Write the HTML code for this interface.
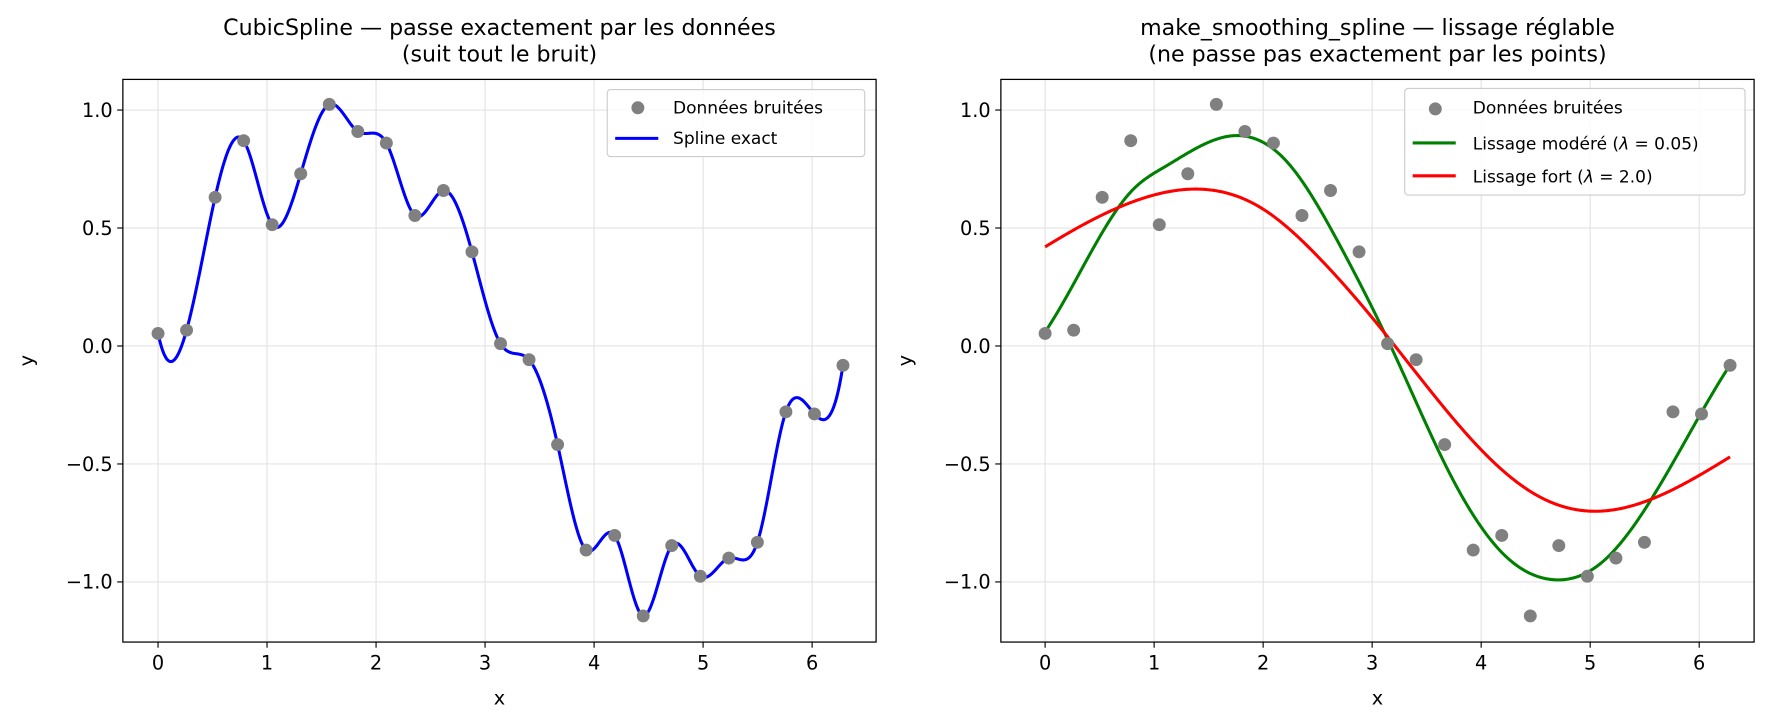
<!DOCTYPE html>
<html><head><meta charset="utf-8"><style>
html,body{margin:0;padding:0;background:#fff;}
svg{display:block;font-family:"DejaVu Sans","Liberation Sans",sans-serif;}
</style></head><body>
<svg id="s" width="1776" height="726" viewBox="0 0 1565 640" xmlns="http://www.w3.org/2000/svg">
<rect width="1565" height="640" fill="#fff"/>
<g id="g"></g>
<text x="440" y="31" font-size="19.5" text-anchor="middle">CubicSpline — passe exactement par les données</text>
<text x="440" y="54" font-size="19.5" text-anchor="middle">(suit tout le bruit)</text>
<text x="1214" y="31" font-size="19.5" text-anchor="middle">make_smoothing_spline — lissage réglable</text>
<text x="1214" y="54" font-size="19.5" text-anchor="middle">(ne passe pas exactement par les points)</text>
</svg>
<script>
const NS="http://www.w3.org/2000/svg";
const g=document.getElementById('g');
function el(t,a,txt){const e=document.createElementNS(NS,t);for(const k in a)e.setAttribute(k,a[k]);if(txt!==undefined)e.innerHTML=txt;g.appendChild(e);return e;}
const ys=[0.053,0.067,0.63,0.87,0.514,0.73,1.024,0.909,0.86,0.553,0.659,0.399,0.01,-0.058,-0.418,-0.865,-0.803,-1.144,-0.846,-0.976,-0.899,-0.832,-0.279,-0.288,-0.082];
const n=ys.length, xs=ys.map((_,i)=>i*2*Math.PI/24);
function solve(A,b){const N=b.length;for(let i=0;i<N;i++){let p=i;for(let r=i+1;r<N;r++)if(Math.abs(A[r][i])>Math.abs(A[p][i]))p=r;[A[i],A[p]]=[A[p],A[i]];[b[i],b[p]]=[b[p],b[i]];for(let r=i+1;r<N;r++){const f=A[r][i]/A[i][i];for(let c=i;c<N;c++)A[r][c]-=f*A[i][c];b[r]-=f*b[i];}}const x=new Array(N).fill(0);for(let i=N-1;i>=0;i--){let s=b[i];for(let c=i+1;c<N;c++)s-=A[i][c]*x[c];x[i]=s/A[i][i];}return x;}
function spline(X,Y,nak){const N=X.length,h=[];for(let i=0;i<N-1;i++)h.push(X[i+1]-X[i]);
const A=[],b=[];for(let i=0;i<N;i++){A.push(new Array(N).fill(0));b.push(0);}
for(let i=1;i<N-1;i++){A[i][i-1]=h[i-1];A[i][i]=2*(h[i-1]+h[i]);A[i][i+1]=h[i];b[i]=6*((Y[i+1]-Y[i])/h[i]-(Y[i]-Y[i-1])/h[i-1]);}
if(nak&&N>3){A[0][0]=h[1];A[0][1]=-(h[0]+h[1]);A[0][2]=h[0];A[N-1][N-3]=h[N-2];A[N-1][N-2]=-(h[N-3]+h[N-2]);A[N-1][N-1]=h[N-3];}
else{A[0][0]=1;A[N-1][N-1]=1;}
const M=solve(A,b);
return x=>{let i=0;while(i<N-2&&x>X[i+1])i++;const t=X[i+1]-x,u=x-X[i],hh=h[i];
return M[i]*t*t*t/(6*hh)+M[i+1]*u*u*u/(6*hh)+(Y[i]/hh-M[i]*hh/6)*t+(Y[i+1]/hh-M[i+1]*hh/6)*u;};}
const Y0=305,SY=208;
function axes(x0,X0){
 const L=x0,R=x0+664,T=70,B=566;
 for(let k=0;k<=6;k++){const px=X0+k*96.1;el('line',{x1:px,x2:px,y1:T,y2:B,stroke:'#e3e3e3','stroke-width':1});}
 [1,0.5,0,-0.5,-1].forEach(v=>{const py=Y0-v*SY;el('line',{x1:L,x2:R,y1:py,y2:py,stroke:'#e3e3e3','stroke-width':1});});
 return {L,R,T,B,X0};
}
function frame(a){
 el('rect',{x:a.L,y:a.T,width:664,height:496,fill:'none',stroke:'#000','stroke-width':1.1});
 for(let k=0;k<=6;k++){const px=a.X0+k*96.1;el('line',{x1:px,x2:px,y1:a.B,y2:a.B+5,stroke:'#000'});el('text',{x:px,y:a.B+24,'font-size':17,'text-anchor':'middle'},String(k));}
 [[1,'1.0'],[0.5,'0.5'],[0,'0.0'],[-0.5,'−0.5'],[-1,'−1.0']].forEach(([v,s])=>{const py=Y0-v*SY;el('line',{x1:a.L-5,x2:a.L,y1:py,y2:py,stroke:'#000'});el('text',{x:a.L-9,y:py+6,'font-size':17,'text-anchor':'end'},s);});
 el('text',{x:(a.L+a.R)/2,y:621,'font-size':17,'text-anchor':'middle'},'x');
 el('text',{x:0,y:0,'font-size':17,'text-anchor':'middle',transform:`translate(${a.L-79},${(a.T+a.B)/2}) rotate(-90)`},'y');
}
function curve(a,f,x1,col){let d='';for(let i=0;i<=600;i++){const x=x1*i/600;d+=(i?'L':'M')+(a.X0+x*96.1).toFixed(2)+','+(Y0-f(x)*SY).toFixed(2);}
 el('path',{d,fill:'none',stroke:col,'stroke-width':2.7});}
function pts(a){xs.forEach((x,i)=>el('circle',{cx:a.X0+x*96.1,cy:Y0-ys[i]*SY,r:5.7,fill:'#808080'}));}
const xe=2*Math.PI;
const a1=axes(108,139);
curve(a1,spline(xs,ys,true),xe,'#0000ff');pts(a1);frame(a1);
el('rect',{x:535,y:79,width:227,height:59,fill:'#fff','fill-opacity':0.85,stroke:'#ccc',rx:3});
el('circle',{cx:562,cy:95,r:5.7,fill:'#808080'});el('text',{x:593,y:100,'font-size':15},'Données bruitées');
el('line',{x1:542,x2:580,y1:122,y2:122,stroke:'#0000ff','stroke-width':2.7});el('text',{x:593,y:127,'font-size':15},'Spline exact');
const a2=axes(882,921);
const gx=[0,0.4,0.8,1.1,1.7,2.2,2.7,3.2,3.7,4.2,4.65,5.1,5.6,6.2832],gy=[0.06,0.38,0.66,0.76,0.89,0.79,0.43,-0.03,-0.53,-0.88,-0.99,-0.92,-0.62,-0.08];
const rx=[0,0.5,1,1.38,2,2.5,3,3.5,4,4.5,5,5.5,6.2832],ry=[0.42,0.55,0.64,0.665,0.58,0.38,0.12,-0.17,-0.44,-0.63,-0.70,-0.66,-0.47];
curve(a2,spline(gx,gy,true),xe,'#008000');curve(a2,spline(rx,ry,true),xe,'#ff0000');pts(a2);frame(a2);
el('rect',{x:1238,y:78,width:300,height:94,fill:'#fff','fill-opacity':0.85,stroke:'#ccc',rx:3});
el('circle',{cx:1265,cy:96,r:5.7,fill:'#808080'});el('text',{x:1298,y:100,'font-size':15},'Données bruitées');
el('line',{x1:1245,x2:1283,y1:126,y2:126,stroke:'#008000','stroke-width':2.7});el('text',{x:1298,y:132,'font-size':15},'Lissage modéré (<tspan font-style="italic">λ</tspan> = 0.05)');
el('line',{x1:1245,x2:1283,y1:155,y2:155,stroke:'#ff0000','stroke-width':2.7});el('text',{x:1298,y:161,'font-size':15},'Lissage fort (<tspan font-style="italic">λ</tspan> = 2.0)');
</script>
</body></html>
